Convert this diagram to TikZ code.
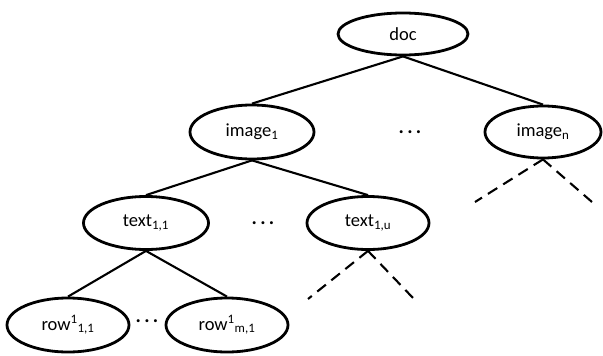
\documentclass[tikz,border=0pt]{standalone}
\usepackage{fontspec}
\setmainfont{Carlito}
\usetikzlibrary{shapes.geometric}
\begin{document}
\begin{tikzpicture}[x=1pt,y=-1pt,
  nd/.style={ellipse,draw,line width=2.8pt,inner sep=0pt,font=\fontsize{18.5}{20}\selectfont},
  edge/.style={line width=2.1pt},
  dedge/.style={line width=2.1pt,dash pattern=on 11pt off 7pt},
  dotsnode/.style={font=\fontsize{20}{22}\selectfont\bfseries}]
\useasboundingbox (0,0) rectangle (603,356);
\node[nd,minimum width=130pt,minimum height=42pt] (doc) at (403,34) {doc};
\node[nd,minimum width=124pt,minimum height=54pt] (img1) at (252,132) {image\textsubscript{1}};
\node[nd,minimum width=116pt,minimum height=52pt] (imgn) at (543,132) {image\textsubscript{n}};
\node[nd,minimum width=125pt,minimum height=53pt] (t11) at (146,223) {text\textsubscript{1,1}};
\node[nd,minimum width=122pt,minimum height=53pt] (t1u) at (368,223) {text\textsubscript{1,u}};
\node[nd,minimum width=122pt,minimum height=54pt] (r11) at (68,325) {row\textsuperscript{1}\textsubscript{1,1}};
\node[nd,minimum width=122pt,minimum height=54pt] (rm1) at (227,325) {row\textsuperscript{1}\textsubscript{m,1}};
\node[dotsnode] (d1) at (410,132) {.\,.\,.};
\node[dotsnode] (d2) at (263,223) {.\,.\,.};
\node[dotsnode] (d3) at (147,321) {.\,.\,.};
\coordinate (an1) at (475,202);
\coordinate (an2) at (592,202);
\coordinate (au1) at (308,299);
\coordinate (au2) at (414,299);
\draw[edge] (doc.south) -- (img1.north);
\draw[edge] (doc.south) -- (imgn.north);
\draw[edge] (img1.south) -- (t11.north);
\draw[edge] (img1.south) -- (t1u.north);
\draw[edge] (t11.south) -- (r11.north);
\draw[edge] (t11.south) -- (rm1.north);
\draw[dedge] (imgn.south) -- (an1);
\draw[dedge] (imgn.south) -- (an2);
\draw[dedge] (t1u.south) -- (au1);
\draw[dedge] (t1u.south) -- (au2);
\end{tikzpicture}
\end{document}
